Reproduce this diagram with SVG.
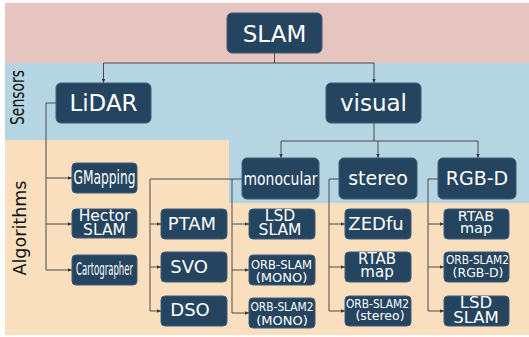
<svg xmlns="http://www.w3.org/2000/svg" width="529" height="337" viewBox="0 0 529 337">
<defs>
<marker id="ah" markerWidth="5" markerHeight="5" refX="4.5" refY="2.5" orient="auto" markerUnits="userSpaceOnUse">
<path d="M0,0.5 L4.5,2.5 L0,4.5 Z" fill="#3a3a3a"/>
</marker>
<style>
.n{fill:#24445f;stroke:#3c5c78;stroke-width:1}
.t{fill:#ffffff;font-family:"DejaVu Sans","Liberation Sans",sans-serif;text-anchor:middle}
.c{fill:none;stroke:#4a4a4a;stroke-width:1}
.a{fill:none;stroke:#4a4a4a;stroke-width:1;marker-end:url(#ah)}
.lbl{fill:#111111;font-family:"DejaVu Sans","Liberation Sans",sans-serif;text-anchor:middle}
</style>
</defs>
<rect x="0" y="0" width="529" height="337" fill="#ffffff"/>
<g id="bands">
<rect x="5" y="3" width="524" height="60" fill="#e6c4c0"/>
<rect x="5" y="63" width="524" height="77" fill="#b5d5e2"/>
<rect x="5" y="140" width="524" height="195" fill="#fadfbf"/>
<rect x="229" y="140" width="300" height="63" fill="#b5d5e2"/>
<text class="lbl" transform="translate(24,97.5) rotate(-90)" font-size="19" textLength="55" lengthAdjust="spacingAndGlyphs">Sensors</text>
<text class="lbl" transform="translate(25.5,228) rotate(-90)" font-size="18" textLength="95" lengthAdjust="spacingAndGlyphs">Algorithms</text>
</g>
<g id="connectors">
<path class="c" d="M274.5,53 V63 M103.5,63 H374"/>
<path class="a" d="M103.5,63 V83"/>
<path class="a" d="M374,63 V83"/>
<path class="c" d="M56,103 H46 V270"/>
<path class="a" d="M46,178 H72"/>
<path class="a" d="M46,224 H72"/>
<path class="a" d="M46,270 H72"/>
<path class="c" d="M374,123 V141 M281,141 H478"/>
<path class="a" d="M281,141 V158"/>
<path class="a" d="M378,141 V158"/>
<path class="a" d="M478,141 V158"/>
<path class="c" d="M242,179 H150 V311 M232,179 V313"/>
<path class="a" d="M150,224 H161"/>
<path class="a" d="M150,267 H161"/>
<path class="a" d="M150,311 H161"/>
<path class="a" d="M232,224 H249"/>
<path class="a" d="M232,270 H249"/>
<path class="a" d="M232,313 H249"/>
<path class="c" d="M339,179 H329 V311"/>
<path class="a" d="M329,224 H345"/>
<path class="a" d="M329,267 H345"/>
<path class="a" d="M329,311 H345"/>
<path class="c" d="M438,179 H428 V311"/>
<path class="a" d="M428,224 H444"/>
<path class="a" d="M428,267 H444"/>
<path class="a" d="M428,311 H444"/>
</g>
<g id="slam"><rect class="n" x="227" y="13" width="95" height="40" rx="5"/><text class="t" x="274.5" y="42" font-size="23">SLAM</text></g>
<g id="lidar"><rect class="n" x="56" y="83" width="95" height="40" rx="5"/><text class="t" x="103.5" y="111" font-size="23">LiDAR</text></g>
<g id="visual"><rect class="n" x="326" y="83" width="95" height="40" rx="5"/><text class="t" x="373.5" y="111" font-size="23">visual</text></g>
<g id="monocular"><rect class="n" x="242" y="158" width="77" height="41" rx="5"/><text class="t" x="280.5" y="185" font-size="17" textLength="74" lengthAdjust="spacingAndGlyphs">monocular</text></g>
<g id="stereo"><rect class="n" x="339" y="158" width="78" height="41" rx="5"/><text class="t" x="378" y="185" font-size="19">stereo</text></g>
<g id="rgbd"><rect class="n" x="438" y="158" width="78" height="41" rx="5"/><text class="t" x="477" y="185" font-size="19">RGB-D</text></g>
<g id="gmapping"><rect class="n" x="72" y="163" width="65" height="30" rx="4"/><text class="t" x="104.5" y="184" font-size="19" textLength="62" lengthAdjust="spacingAndGlyphs">GMapping</text></g>
<g id="hector"><rect class="n" x="72" y="209" width="65" height="29" rx="4"/><text class="t" x="104.5" y="221" font-size="15.5">Hector</text><text class="t" x="104.5" y="235" font-size="15.5">SLAM</text></g>
<g id="cartographer"><rect class="n" x="72" y="255" width="65" height="30" rx="4"/><text class="t" x="104.5" y="275" font-size="17.5" textLength="57" lengthAdjust="spacingAndGlyphs">Cartographer</text></g>
<g id="ptam"><rect class="n" x="161" y="209" width="66" height="30" rx="4"/><text class="t" x="192" y="230" font-size="18">PTAM</text></g>
<g id="svo"><rect class="n" x="161" y="252" width="66" height="30" rx="4"/><text class="t" x="189" y="273" font-size="18">SVO</text></g>
<g id="dso"><rect class="n" x="161" y="296" width="66" height="30" rx="4"/><text class="t" x="190" y="316" font-size="18">DSO</text></g>
<g id="lsdslam-mono"><rect class="n" x="249" y="209" width="66" height="30" rx="4"/><text class="t" x="280" y="221" font-size="15.5">LSD</text><text class="t" x="280" y="235" font-size="15.5">SLAM</text></g>
<g id="orbslam-mono"><rect class="n" x="249" y="255" width="66" height="30" rx="4"/><text class="t" x="281.5" y="269" font-size="13" textLength="61" lengthAdjust="spacingAndGlyphs">ORB-SLAM</text><text class="t" x="281.5" y="282" font-size="13">(MONO)</text></g>
<g id="orbslam2-mono"><rect class="n" x="249" y="298" width="66" height="30" rx="4"/><text class="t" x="282" y="311" font-size="13" textLength="63" lengthAdjust="spacingAndGlyphs">ORB-SLAM2</text><text class="t" x="282" y="325" font-size="13">(MONO)</text></g>
<g id="zedfu"><rect class="n" x="345" y="209" width="66" height="30" rx="4"/><text class="t" x="376" y="230" font-size="18">ZEDfu</text></g>
<g id="rtab-stereo"><rect class="n" x="345" y="252" width="66" height="30" rx="4"/><text class="t" x="377" y="264" font-size="15">RTAB</text><text class="t" x="377" y="277" font-size="15">map</text></g>
<g id="orbslam2-stereo"><rect class="n" x="345" y="296" width="66" height="30" rx="4"/><text class="t" x="377.5" y="308" font-size="12.5" textLength="63" lengthAdjust="spacingAndGlyphs">ORB-SLAM2</text><text class="t" x="380" y="320" font-size="12.5">(stereo)</text></g>
<g id="rtab-rgbd"><rect class="n" x="444" y="209" width="65" height="30" rx="4"/><text class="t" x="476" y="221" font-size="14.5">RTAB</text><text class="t" x="476" y="233" font-size="14.5">map</text></g>
<g id="orbslam2-rgbd"><rect class="n" x="444" y="252" width="65" height="30" rx="4"/><text class="t" x="477.5" y="264" font-size="12.5" textLength="63" lengthAdjust="spacingAndGlyphs">ORB-SLAM2</text><text class="t" x="478" y="277" font-size="12.5">(RGB-D)</text></g>
<g id="lsdslam-rgbd"><rect class="n" x="444" y="296" width="65" height="30" rx="4"/><text class="t" x="476" y="308" font-size="16.5">LSD</text><text class="t" x="476" y="323" font-size="16.5">SLAM</text></g>
</svg>
